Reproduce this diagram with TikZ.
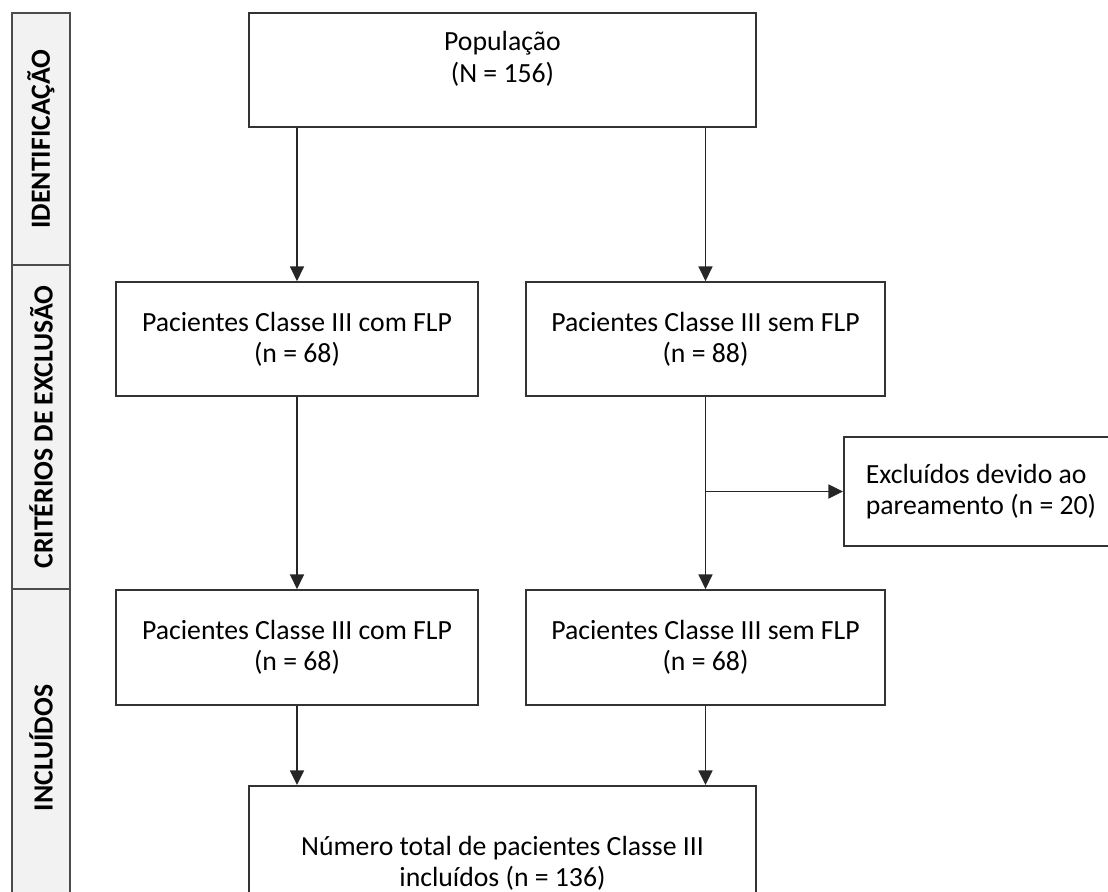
\documentclass[tikz,border=0pt]{standalone}
\usepackage{fontspec}
\setmainfont{Carlito}
\usetikzlibrary{arrows.meta}

\begin{document}
\begin{tikzpicture}[x=0.75pt,y=-0.75pt,
        caixa/.style = {draw=black!80, line width=1.3pt, align=center, inner sep=0pt,
            font=\fontsize{20.8}{23.5}\selectfont},
        seta/.style = {line width=1.2pt, draw=black!85, -{Triangle[length=11pt,width=10.5pt]}},
        fase/.style = {rotate=90, font=\fontsize{20.8}{22}\selectfont\bfseries}]
        %   \draw [help lines] (0,0) grid (1108,892);
        \useasboundingbox (0,0) rectangle (1108,892);

        % faixa das fases
        \draw [fill=black!5, draw=black!70, line width=1.1pt] (12,13) rectangle (70,907);
        \draw [draw=black!70, line width=1.1pt] (12,265) -- (70,265);
        \draw [draw=black!70, line width=1.1pt] (12,589) -- (70,589);

        \node [fase] (ident) at (41,139) {IDENTIFICAÇÃO};
        \node [fase] (criterios) at (41,427) {CRITÉRIOS DE EXCLUSÃO};
        \node [fase] (incluidos) at (41,748) {INCLUÍDOS};

        % caixas
        \node [caixa, minimum width=380.25pt, minimum height=85.5pt] (pop) at (502.5,70)
        {População\\(N = 156)\rule[-19.5pt]{0pt}{0pt}};

        \node [caixa, minimum width=271.5pt, minimum height=85.5pt] (comflp) at (297,339)
        {Pacientes Classe III com FLP\\(n = 68)};
        \node [caixa, minimum width=269.25pt, minimum height=85.5pt] (semflp) at (705.5,339)
        {Pacientes Classe III sem FLP\\(n = 88)};

        \node [caixa, anchor=west, align=flush left, inner xsep=16.5pt, text width=192pt,
            minimum height=81.75pt] (excl) at (843,491.5)
        {Excluídos devido ao\\pareamento (n = 20)};

        \node [caixa, minimum width=271.5pt, minimum height=86.25pt] (comflpinc) at (297,647.5)
        {Pacientes Classe III com FLP\\(n = 68)};
        \node [caixa, minimum width=269.25pt, minimum height=86.25pt] (semflpinc) at (705.5,647.5)
        {Pacientes Classe III sem FLP\\(n = 68)};

        \node [caixa, anchor=north, minimum width=380.25pt, minimum height=116pt] (total) at (502.5,785)
        {Número total de pacientes Classe III\\incluídos (n = 136)};

        % setas
        \draw [seta] (comflp.north |- pop.south) -- (comflp.north);
        \draw [seta] (semflp.north |- pop.south) -- (semflp.north);
        \draw [seta] (comflp.south) -- (comflpinc.north);
        \draw [seta] (semflp.south) -- (semflpinc.north);
        \draw [seta] (semflp.south |- excl.west) -- (excl.west);
        \draw [seta] (comflpinc.south) -- (comflpinc.south |- total.north);
        \draw [seta] (semflpinc.south) -- (semflpinc.south |- total.north);
\end{tikzpicture}
\end{document}
